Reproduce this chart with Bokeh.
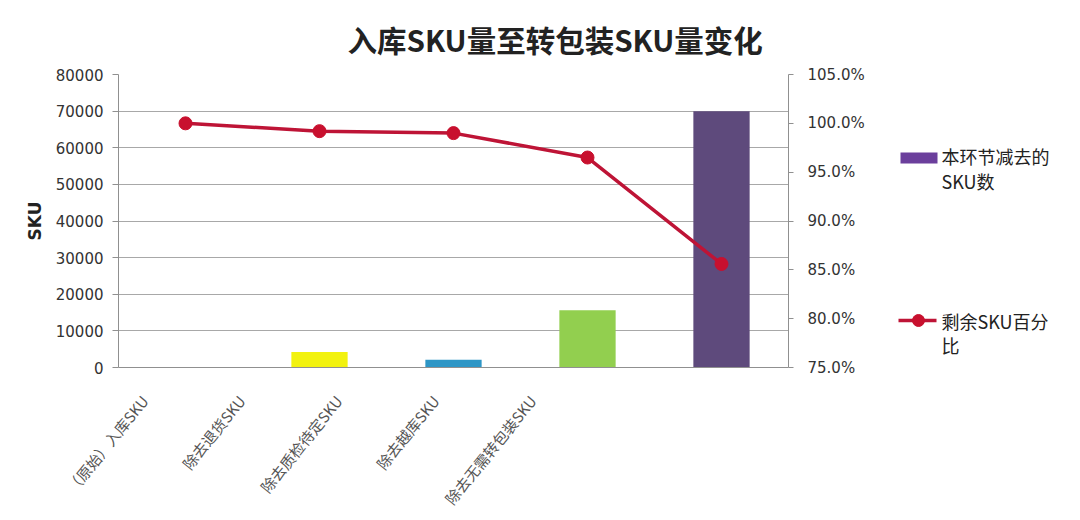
from bokeh.plotting import figure
from bokeh.models import (Range1d, LinearAxis, SingleIntervalTicker, NumeralTickFormatter,
                          ColumnDataSource, Title, FixedTicker)
from bokeh.layouts import row
from bokeh.core.properties import value
from bokeh.embed import file_html
from bokeh.resources import INLINE
import math

categories = ["（原始）入库SKU", "除去退货SKU", "除去质检待定SKU", "除去越库SKU", "除去无需转包装SKU"]
removed_sku = [0, 4200, 2100, 15600, 70000]
bar_colors = ["#C0504D", "#F2F20F", "#2E96C6", "#92CF4F", "#5E4A7C"]
remaining_pct = [1.000, 0.992, 0.990, 0.965, 0.856]
title_text = "入库SKU量至转包装SKU量变化"
legend_bar_label = ["本环节减去的", "SKU数"]
legend_line_label = ["剩余SKU百分", "比"]

CJK = "Noto Sans CJK SC"
NUM = "DejaVu Sans"

FL, FR, FT, FB = 118, 788, 74, 367   # frame edges in page pixels
H = 518
W1 = 888

idx = list(range(len(categories)))
src = ColumnDataSource(dict(x=idx, cat=categories, v=removed_sku, c=bar_colors, pct=remaining_pct))

p = figure(x_range=Range1d(-0.5, len(categories) - 0.5), y_range=Range1d(0, 80000),
           width=W1, height=H, output_backend="svg", toolbar_location=None,
           x_axis_location=None,
           min_border_left=FL, min_border_right=W1 - FR, min_border_top=0,
           min_border_bottom=H - FB)
p.outline_line_color = None
p.background_fill_color = "white"
p.extra_y_ranges = {"pct": Range1d(0.75, 1.05)}
p.extra_x_ranges = {"px": Range1d(FL, FR)}

t = Title(text=title_text, text_font=CJK, text_font_size="29.5px", text_font_style="bold",
          text_color="#222222", align="left", offset=229, standoff=29)
p.add_layout(t, "above")

p.vbar(x="x", top="v", width=0.42, fill_color="c", line_color=None, source=src)
p.line(x="x", y="pct", y_range_name="pct", line_color="#BE1436", line_width=3.5, source=src)
p.scatter(x="x", y="pct", y_range_name="pct", size=13, fill_color="#C8102E",
          line_color="#C8102E", source=src)

# left axis
yax = p.yaxis[0]
yax.ticker = SingleIntervalTicker(interval=10000)
yax.formatter = NumeralTickFormatter(format="0")
yax.axis_label = "SKU"
yax.axis_label_text_font = NUM
yax.axis_label_text_font_style = "bold"
yax.axis_label_text_font_size = "17px"
yax.axis_label_text_color = "#222222"
yax.axis_label_standoff = 8
yax.major_label_text_font = NUM
yax.major_label_text_font_size = "15px"
yax.major_label_text_color = "#333333"
yax.major_label_standoff = 9
yax.axis_line_color = "#909090"
yax.major_tick_line_color = "#909090"
yax.major_tick_out = 6
yax.major_tick_in = 0
yax.minor_tick_line_color = None

p.ygrid.grid_line_color = "#A8A8A8"
p.ygrid.grid_line_width = 1
p.ygrid.ticker = SingleIntervalTicker(interval=10000)
p.xgrid.grid_line_color = None

# right axis
rax = LinearAxis(y_range_name="pct", ticker=SingleIntervalTicker(interval=0.05),
                 formatter=NumeralTickFormatter(format="0.0%"))
rax.major_label_text_font = NUM
rax.major_label_text_font_size = "15px"
rax.major_label_text_color = "#333333"
rax.major_label_standoff = 14
rax.axis_line_color = "#909090"
rax.major_tick_line_color = "#909090"
rax.major_tick_out = 5
rax.major_tick_in = 0
rax.minor_tick_line_color = None
p.add_layout(rax, "right")

# category axis: rotated labels, placed as in the reference (spacing of the labels)
label_pos = [144 + 97 * i for i in idx]
xax = LinearAxis(x_range_name="px", ticker=FixedTicker(ticks=label_pos),
                 major_label_overrides={pos: c for pos, c in zip(label_pos, categories)})
xax.major_label_orientation = math.radians(51)
xax.major_label_text_font = CJK
xax.major_label_text_font_size = "15px"
xax.major_label_text_color = "#555555"
xax.major_label_standoff = 24
xax.axis_line_color = "#909090"
xax.major_tick_line_color = None
xax.minor_tick_line_color = None
p.add_layout(xax, "below")

# legend panel
W2 = 1080 - W1
lg = figure(width=W2, height=H, x_range=Range1d(W1, W1 + W2), y_range=Range1d(FB, FT),
            output_backend="svg", toolbar_location=None, x_axis_type=None, y_axis_type=None,
            min_border_left=0, min_border_right=0, min_border_top=FT, min_border_bottom=H - FB)
lg.outline_line_color = None
lg.xgrid.grid_line_color = None
lg.ygrid.grid_line_color = None
lg.quad(left=[900], right=[937], top=[152], bottom=[163], fill_color="#6B3F9C", line_color=None)
lg.text(x=[941, 941], y=[155, 180], text=legend_bar_label, text_font=value(CJK),
        text_font_size="18px", text_color="#222222", text_baseline="middle")
lg.line(x=[898, 936], y=[320, 320], line_color="#BE1436", line_width=3.5)
lg.scatter(x=[918], y=[320], size=12, fill_color="#C8102E", line_color="#C8102E")
lg.text(x=[941, 941], y=[320, 344], text=legend_line_label, text_font=value(CJK),
        text_font_size="18px", text_color="#222222", text_baseline="middle")

layout = row(p, lg)
open("out.html", "w").write(file_html(layout, INLINE))
